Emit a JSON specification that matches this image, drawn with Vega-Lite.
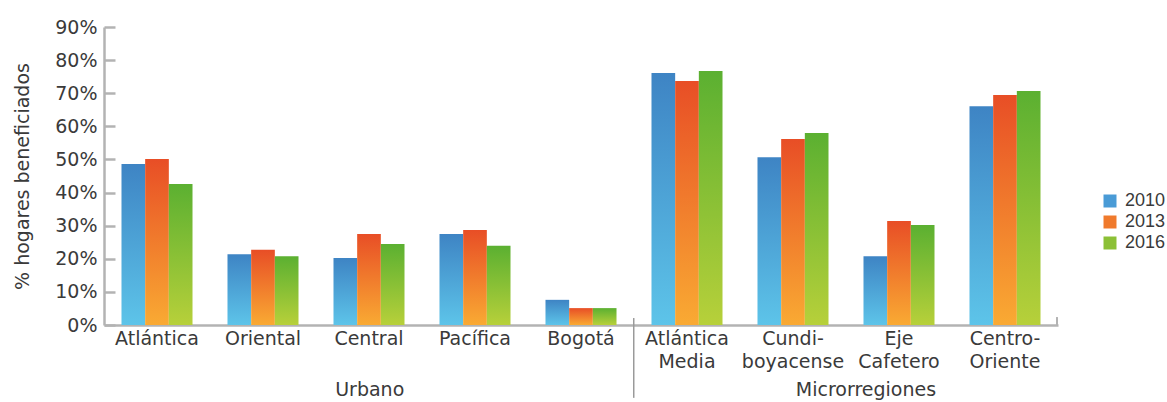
{
  "$schema": "https://vega.github.io/schema/vega-lite/v6.json",
  "width": 954,
  "height": 298,
  "autosize": {"type": "none"},
  "padding": {"left": 104, "top": 27, "right": 109, "bottom": 77},
  "config": {
    "view": {"stroke": null},
    "font": "DejaVu Sans",
    "axis": {"labelColor": "#3a3a3a", "titleColor": "#3a3a3a", "labelFontSize": 19, "titleFontSize": 19, "titleFontWeight": "normal", "grid": false}
  },
  "resolve": {"axis": {"x": "independent", "y": "independent"}},
  "datasets": {
    "hogares": [
      {"region": "Atlántica", "anio": "2010", "valor": 0.486},
      {"region": "Atlántica", "anio": "2013", "valor": 0.501},
      {"region": "Atlántica", "anio": "2016", "valor": 0.426},
      {"region": "Oriental", "anio": "2010", "valor": 0.214},
      {"region": "Oriental", "anio": "2013", "valor": 0.227},
      {"region": "Oriental", "anio": "2016", "valor": 0.208},
      {"region": "Central", "anio": "2010", "valor": 0.202},
      {"region": "Central", "anio": "2013", "valor": 0.275},
      {"region": "Central", "anio": "2016", "valor": 0.245},
      {"region": "Pacífica", "anio": "2010", "valor": 0.275},
      {"region": "Pacífica", "anio": "2013", "valor": 0.287},
      {"region": "Pacífica", "anio": "2016", "valor": 0.239},
      {"region": "Bogotá", "anio": "2010", "valor": 0.076},
      {"region": "Bogotá", "anio": "2013", "valor": 0.051},
      {"region": "Bogotá", "anio": "2016", "valor": 0.051},
      {"region": "Atlántica Media", "anio": "2010", "valor": 0.761},
      {"region": "Atlántica Media", "anio": "2013", "valor": 0.737},
      {"region": "Atlántica Media", "anio": "2016", "valor": 0.767},
      {"region": "Cundi-boyacense", "anio": "2010", "valor": 0.507},
      {"region": "Cundi-boyacense", "anio": "2013", "valor": 0.562},
      {"region": "Cundi-boyacense", "anio": "2016", "valor": 0.580},
      {"region": "Eje Cafetero", "anio": "2010", "valor": 0.208},
      {"region": "Eje Cafetero", "anio": "2013", "valor": 0.314},
      {"region": "Eje Cafetero", "anio": "2016", "valor": 0.302},
      {"region": "Centro-Oriente", "anio": "2010", "valor": 0.661},
      {"region": "Centro-Oriente", "anio": "2013", "valor": 0.695},
      {"region": "Centro-Oriente", "anio": "2016", "valor": 0.707}
    ]
  },
  "data": {"name": "hogares"},
  "layer": [
    {
      "transform": [{"filter": "datum.anio === '2010'"}],
      "mark": {"type": "bar", "color": {"gradient": "linear", "x1": 0, "y1": 0, "x2": 0, "y2": 1, "stops": [{"offset": 0, "color": "#3e84c4"}, {"offset": 1, "color": "#5dc4e9"}]}},
      "encoding": {
        "x": {
          "field": "region", "type": "nominal", "sort": null,
          "scale": {"domain": ["Atlántica", "Oriental", "Central", "Pacífica", "Bogotá", "Atlántica Media", "Cundi-boyacense", "Eje Cafetero", "Centro-Oriente"], "paddingInner": 0.33, "paddingOuter": 0.165},
          "axis": {"title": null, "labelAngle": 0, "ticks": false, "domainColor": "#b3b3b3", "domainWidth": 2.5, "labelPadding": 4, "labelLineHeight": 23, "labelBaseline": "top",
            "labelExpr": "split(replace(replace(datum.label, '-', '-|'), ' ', '|'), '|')"}
        },
        "xOffset": {"field": "anio", "type": "nominal", "scale": {"domain": ["2010", "2013", "2016"]}},
        "y": {
          "field": "valor", "type": "quantitative",
          "scale": {"domain": [0, 0.9], "nice": false},
          "axis": {"title": "% hogares beneficiados", "format": ".0%", "values": [0, 0.1, 0.2, 0.3, 0.4, 0.5, 0.6, 0.7, 0.8, 0.9], "labelOverlap": false,
            "domainColor": "#b3b3b3", "domainWidth": 2.5, "tickColor": "#b3b3b3", "tickWidth": 2.5, "tickSize": -11, "labelPadding": 18, "titlePadding": 22}
        }
      }
    },
    {
      "transform": [{"filter": "datum.anio === '2013'"}],
      "mark": {"type": "bar", "color": {"gradient": "linear", "x1": 0, "y1": 0, "x2": 0, "y2": 1, "stops": [{"offset": 0, "color": "#e84e26"}, {"offset": 1, "color": "#f9aa33"}]}},
      "encoding": {
        "x": {"field": "region", "type": "nominal", "sort": null, "axis": null},
        "xOffset": {"field": "anio", "type": "nominal"},
        "y": {"field": "valor", "type": "quantitative", "axis": null}
      }
    },
    {
      "transform": [{"filter": "datum.anio === '2016'"}],
      "mark": {"type": "bar", "color": {"gradient": "linear", "x1": 0, "y1": 0, "x2": 0, "y2": 1, "stops": [{"offset": 0, "color": "#5bb031"}, {"offset": 1, "color": "#b7d03a"}]}},
      "encoding": {
        "x": {"field": "region", "type": "nominal", "sort": null, "axis": null},
        "xOffset": {"field": "anio", "type": "nominal"},
        "y": {"field": "valor", "type": "quantitative", "axis": null}
      }
    },
    {
      "transform": [{"filter": "false"}],
      "mark": {"type": "square"},
      "encoding": {
        "color": {
          "field": "anio", "type": "nominal",
          "scale": {"domain": ["2010", "2013", "2016"], "range": ["#4a9bd6", "#f07a2c", "#8cc036"]},
          "legend": {"title": null, "orient": "none", "legendX": 997, "legendY": 165, "symbolType": "square", "symbolSize": 169, "symbolStrokeWidth": 0, "symbolOpacity": 1, "labelFont": "Liberation Sans", "labelFontSize": 18, "labelColor": "#3a3a3a", "labelOffset": 6, "rowPadding": 3,
            "encode": {"symbols": {"update": {"fill": [
              {"test": "datum.value === '2010'", "value": {"gradient": "linear", "x1": 0, "y1": 0, "x2": 0, "y2": 1, "stops": [{"offset": 0, "color": "#3e84c4"}, {"offset": 1, "color": "#5dc4e9"}]}},
              {"test": "datum.value === '2013'", "value": {"gradient": "linear", "x1": 0, "y1": 0, "x2": 0, "y2": 1, "stops": [{"offset": 0, "color": "#e84e26"}, {"offset": 1, "color": "#f9aa33"}]}},
              {"value": {"gradient": "linear", "x1": 0, "y1": 0, "x2": 0, "y2": 1, "stops": [{"offset": 0, "color": "#5bb031"}, {"offset": 1, "color": "#b7d03a"}]}}
            ]}}}}
        }
      }
    },
    {
      "data": {"values": [{"grupo": "Urbano"}]},
      "mark": {"type": "text", "fontSize": 19, "color": "#3a3a3a", "baseline": "alphabetic", "dy": 71},
      "encoding": {
        "x": {"datum": "Central", "bandPosition": 0.51, "axis": null},
        "y": {"datum": 0, "axis": null},
        "text": {"field": "grupo"}
      }
    },
    {
      "data": {"values": [{"grupo": "Microrregiones"}]},
      "mark": {"type": "text", "fontSize": 19, "color": "#3a3a3a", "baseline": "alphabetic", "dy": 71},
      "encoding": {
        "x": {"datum": "Eje Cafetero", "bandPosition": 0.035, "axis": null},
        "y": {"datum": 0, "axis": null},
        "text": {"field": "grupo"}
      }
    },
    {
      "data": {"values": [{"linea": "separador"}]},
      "mark": {"type": "rule", "color": "#9a9a9a", "strokeWidth": 1.5},
      "encoding": {
        "x": {"datum": "Atlántica Media", "bandPosition": -0.25, "axis": null},
        "y": {"datum": 0.021, "axis": null},
        "y2": {"datum": -0.22}
      }
    },
    {
      "data": {"values": [{"linea": "fin"}]},
      "mark": {"type": "rule", "color": "#b3b3b3", "strokeWidth": 2},
      "encoding": {
        "x": {"datum": "Centro-Oriente", "bandPosition": 1.232, "axis": null},
        "y": {"datum": 0.024, "axis": null},
        "y2": {"datum": 0}
      }
    }
  ]
}
